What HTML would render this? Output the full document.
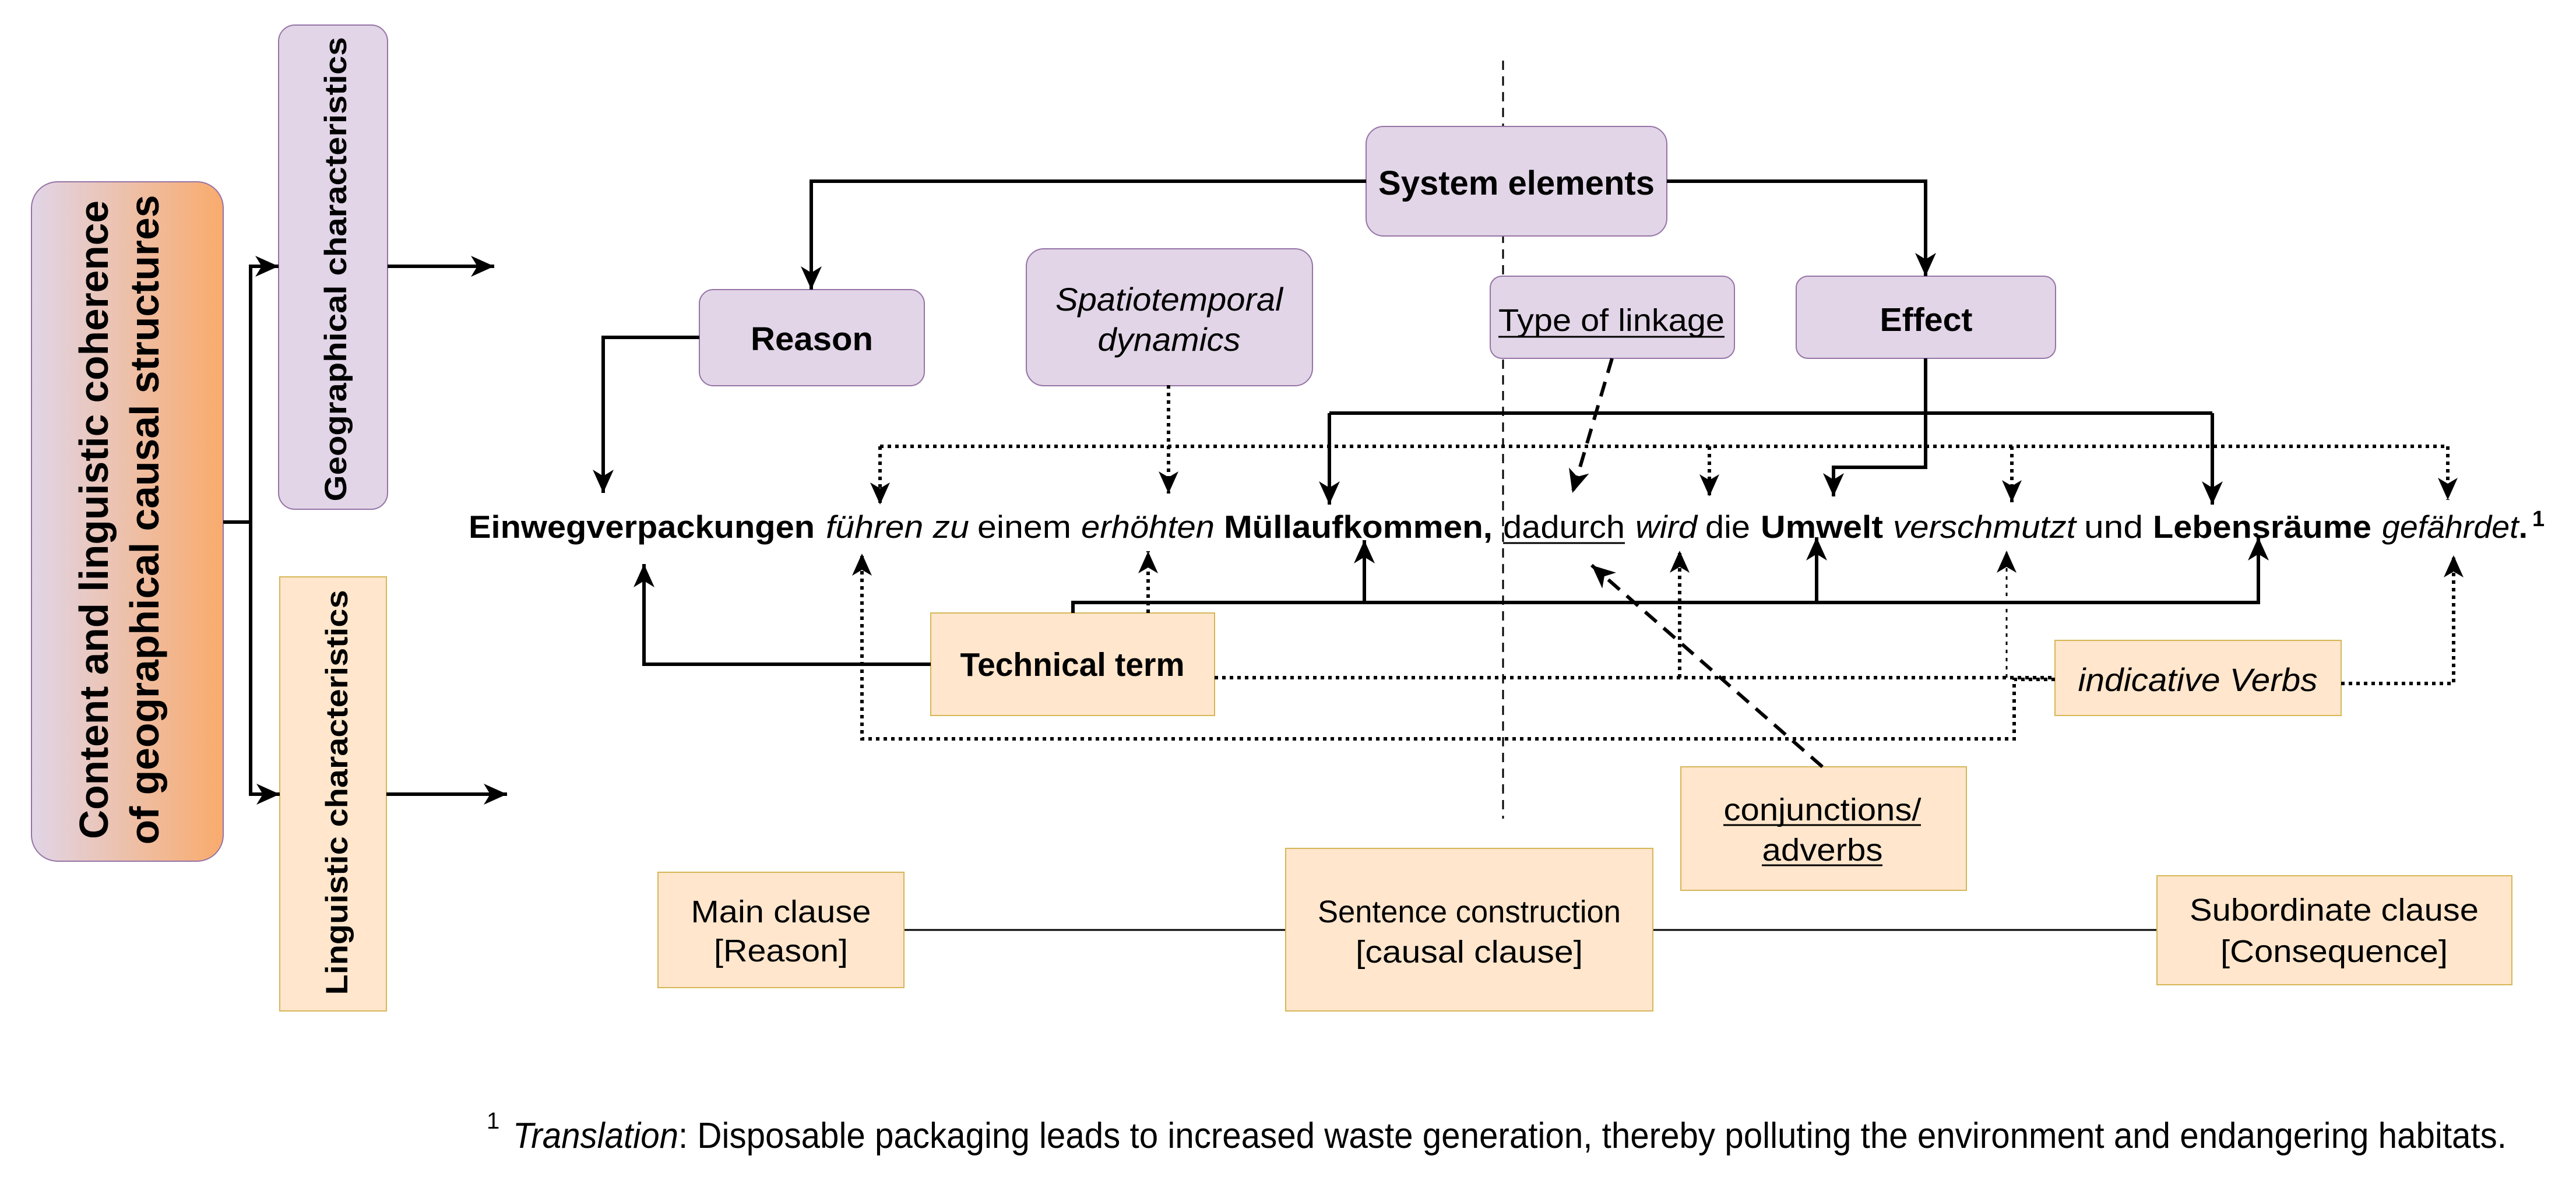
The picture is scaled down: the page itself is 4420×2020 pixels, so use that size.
<!DOCTYPE html>
<html><head><meta charset="utf-8">
<style>
html,body{margin:0;padding:0;background:#fff;}
svg{display:block;}
text{font-family:"Liberation Sans",Arial,sans-serif;fill:#000;}
</style></head>
<body>
<svg width="4420" height="2020" viewBox="0 0 4420 2020" xmlns="http://www.w3.org/2000/svg">
<defs>
<linearGradient id="lg" x1="0" y1="0" x2="1" y2="0">
<stop offset="0" stop-color="#e1d5e7"/>
<stop offset="1" stop-color="#f9ab6c"/>
</linearGradient>
<marker id="a" markerUnits="userSpaceOnUse" markerWidth="44" markerHeight="40" refX="40" refY="18" orient="auto">
<path d="M0,0 L40,18 L0,36 L11,18 Z" fill="#000"/>
</marker>
<marker id="s" markerUnits="userSpaceOnUse" markerWidth="40" markerHeight="36" refX="38" refY="17" orient="auto">
<path d="M0,0 L38,17 L0,34 L10,17 Z" fill="#000"/>
</marker>
</defs>

<rect x="54" y="312" width="329" height="1166" rx="45" fill="url(#lg)" stroke="#9673a6" stroke-width="2"/>
<text transform="translate(185,892) rotate(-90)" text-anchor="middle" font-size="70" font-weight="bold" textLength="1096" lengthAdjust="spacingAndGlyphs">Content and linguistic coherence</text>
<text transform="translate(272,892) rotate(-90)" text-anchor="middle" font-size="70" font-weight="bold" textLength="1115" lengthAdjust="spacingAndGlyphs">of geographical causal structures</text>

<rect x="478" y="43" width="187" height="831" rx="28" fill="#e1d5e7" stroke="#9673a6" stroke-width="2"/>
<text transform="translate(594,462) rotate(-90)" text-anchor="middle" font-size="53" font-weight="bold" textLength="797" lengthAdjust="spacingAndGlyphs">Geographical characteristics</text>

<rect x="480" y="990" width="183" height="745" fill="#ffe6cc" stroke="#d6b656" stroke-width="2"/>
<text transform="translate(596,1360) rotate(-90)" text-anchor="middle" font-size="53" font-weight="bold" textLength="695" lengthAdjust="spacingAndGlyphs">Linguistic characteristics</text>

<g fill="none" stroke="#000" stroke-width="6">
<path d="M383,896 H430"/>
<path d="M430,896 V457 H478" marker-end="url(#a)"/>
<path d="M430,896 V1363 H480" marker-end="url(#a)"/>
<path d="M665,457 H848" marker-end="url(#a)"/>
<path d="M663,1363 H870" marker-end="url(#a)"/>
</g>

<path d="M2579,104 V1405" stroke="#000" stroke-width="3" stroke-dasharray="16,11" fill="none"/>

<rect x="2344" y="217" width="516" height="188" rx="30" fill="#e1d5e7" stroke="#9673a6" stroke-width="2"/>
<text x="2602" y="334" text-anchor="middle" font-size="58" font-weight="bold" textLength="474" lengthAdjust="spacingAndGlyphs">System elements</text>

<rect x="1200" y="497" width="386" height="165" rx="24" fill="#e1d5e7" stroke="#9673a6" stroke-width="2"/>
<text x="1393" y="601" text-anchor="middle" font-size="57" font-weight="bold" textLength="210" lengthAdjust="spacingAndGlyphs">Reason</text>

<rect x="1761" y="427" width="491" height="235" rx="30" fill="#e1d5e7" stroke="#9673a6" stroke-width="2"/>
<text x="2006" y="533" text-anchor="middle" font-size="56" font-style="italic" textLength="390" lengthAdjust="spacingAndGlyphs">Spatiotemporal</text>
<text x="2006" y="602" text-anchor="middle" font-size="56" font-style="italic" textLength="245" lengthAdjust="spacingAndGlyphs">dynamics</text>

<rect x="2557" y="474" width="419" height="141" rx="20" fill="#e1d5e7" stroke="#9673a6" stroke-width="2"/>
<text x="2765" y="568" text-anchor="middle" font-size="54" textLength="388" lengthAdjust="spacingAndGlyphs">Type of linkage</text>
<line x1="2571" y1="578" x2="2959" y2="578" stroke="#000" stroke-width="3"/>

<rect x="3082" y="474" width="445" height="141" rx="20" fill="#e1d5e7" stroke="#9673a6" stroke-width="2"/>
<text x="3305" y="568" text-anchor="middle" font-size="57" font-weight="bold" textLength="159" lengthAdjust="spacingAndGlyphs">Effect</text>

<rect x="1597" y="1052" width="487" height="176" fill="#ffe6cc" stroke="#d6b656" stroke-width="2"/>
<text x="1840" y="1160" text-anchor="middle" font-size="57" font-weight="bold" textLength="385" lengthAdjust="spacingAndGlyphs">Technical term</text>

<rect x="3526" y="1099" width="491" height="129" fill="#ffe6cc" stroke="#d6b656" stroke-width="2"/>
<text x="3771" y="1186" text-anchor="middle" font-size="56" font-style="italic" textLength="411" lengthAdjust="spacingAndGlyphs">indicative Verbs</text>

<rect x="2884" y="1316" width="490" height="212" fill="#ffe6cc" stroke="#d6b656" stroke-width="2"/>
<text x="3127" y="1408" text-anchor="middle" font-size="54" textLength="339" lengthAdjust="spacingAndGlyphs">conjunctions/</text>
<line x1="2957" y1="1416" x2="3296" y2="1416" stroke="#000" stroke-width="3"/>
<text x="3127" y="1477" text-anchor="middle" font-size="54" textLength="207" lengthAdjust="spacingAndGlyphs">adverbs</text>
<line x1="3023" y1="1485" x2="3230" y2="1485" stroke="#000" stroke-width="3"/>

<line x1="1551" y1="1596" x2="3701" y2="1596" stroke="#000" stroke-width="3"/>
<rect x="1129" y="1497" width="422" height="198" fill="#ffe6cc" stroke="#d6b656" stroke-width="2"/>
<text x="1340" y="1583" text-anchor="middle" font-size="54" textLength="309" lengthAdjust="spacingAndGlyphs">Main clause</text>
<text x="1340" y="1650" text-anchor="middle" font-size="54" textLength="230" lengthAdjust="spacingAndGlyphs">[Reason]</text>

<rect x="2206" y="1456" width="630" height="279" fill="#ffe6cc" stroke="#d6b656" stroke-width="2"/>
<text x="2521" y="1583" text-anchor="middle" font-size="54" textLength="520" lengthAdjust="spacingAndGlyphs">Sentence construction</text>
<text x="2521" y="1652" text-anchor="middle" font-size="54" textLength="390" lengthAdjust="spacingAndGlyphs">[causal clause]</text>

<rect x="3701" y="1503" width="609" height="187" fill="#ffe6cc" stroke="#d6b656" stroke-width="2"/>
<text x="4005" y="1580" text-anchor="middle" font-size="54" textLength="496" lengthAdjust="spacingAndGlyphs">Subordinate clause</text>
<text x="4005" y="1651" text-anchor="middle" font-size="54" textLength="390" lengthAdjust="spacingAndGlyphs">[Consequence]</text>

<g fill="none" stroke="#000" stroke-width="6">
<path d="M2344,311 H1392 V497" marker-end="url(#a)"/>
<path d="M2860,311 H3304 V474" marker-end="url(#a)"/>
<path d="M1200,579 H1035 V846" marker-end="url(#a)"/>
<path d="M2281,709 H3796"/>
<path d="M2281,709 V866" marker-end="url(#a)"/>
<path d="M3796,709 V866" marker-end="url(#a)"/>
<path d="M3304,615 V802 H3146 V852" marker-end="url(#a)"/>
<path d="M1841,1052 V1034 H3875 V922" marker-end="url(#a)"/>
<path d="M2341,1034 V927" marker-end="url(#a)"/>
<path d="M3117,1034 V922" marker-end="url(#a)"/>
<path d="M1597,1140 H1105 V968" marker-end="url(#a)"/>
</g>

<g fill="none" stroke="#000" stroke-width="6" stroke-dasharray="6,7">
<path d="M1510,766 H4200"/>
<path d="M1510,766 V866" marker-end="url(#s)"/>
<path d="M2933,766 V852" marker-end="url(#s)"/>
<path d="M3452,766 V862" marker-end="url(#s)"/>
<path d="M4200,766 V858" marker-end="url(#s)"/>
<path d="M2005,661 V847" marker-end="url(#s)"/>
<path d="M1970,1052 V946" marker-end="url(#s)"/>
<path d="M2084,1163 H3526"/>
<path d="M2882,1163 V945" marker-end="url(#s)"/>
<path d="M3526,1166 H3456 V1268 H1479 V950" marker-end="url(#s)"/>
<path d="M4017,1173 H4210 V953" marker-end="url(#s)"/>
</g>
<path d="M3443,1163 V945" fill="none" stroke="#000" stroke-width="3" stroke-dasharray="6,8" marker-end="url(#s)"/>

<g fill="none" stroke="#000" stroke-width="6" stroke-dasharray="26,16">
<path d="M2766,615 L2698,846" marker-end="url(#a)"/>
<path d="M3127,1316 L2731,970" marker-end="url(#a)"/>
</g>

<g font-size="55">
<text x="804" y="923" font-weight="bold" textLength="594" lengthAdjust="spacingAndGlyphs">Einwegverpackungen</text>
<text x="1417" y="923" font-style="italic" textLength="246" lengthAdjust="spacingAndGlyphs">führen zu</text>
<text x="1677" y="923" textLength="161" lengthAdjust="spacingAndGlyphs">einem</text>
<text x="1855" y="923" font-style="italic" textLength="229" lengthAdjust="spacingAndGlyphs">erhöhten</text>
<text x="2100" y="923" font-weight="bold" textLength="461" lengthAdjust="spacingAndGlyphs">Müllaufkommen,</text>
<text x="2579" y="923" textLength="209" lengthAdjust="spacingAndGlyphs">dadurch</text>
<text x="2806" y="923" font-style="italic" textLength="106" lengthAdjust="spacingAndGlyphs">wird</text>
<text x="2926" y="923" textLength="77" lengthAdjust="spacingAndGlyphs">die</text>
<text x="3021" y="923" font-weight="bold" textLength="210" lengthAdjust="spacingAndGlyphs">Umwelt</text>
<text x="3248" y="923" font-style="italic" textLength="314" lengthAdjust="spacingAndGlyphs">verschmutzt</text>
<text x="3576" y="923" textLength="101" lengthAdjust="spacingAndGlyphs">und</text>
<text x="3694" y="923" font-weight="bold" textLength="375" lengthAdjust="spacingAndGlyphs">Lebensräume</text>
<text x="4087" y="923" textLength="250" lengthAdjust="spacingAndGlyphs"><tspan font-style="italic">gefährdet</tspan><tspan font-weight="bold">.</tspan></text>
</g>
<text x="4345" y="903" font-size="38" font-weight="bold">1</text>
<line x1="2579" y1="932" x2="2788" y2="932" stroke="#000" stroke-width="3"/>

<text x="835" y="1937" font-size="40">1</text>
<text x="880" y="1970" font-size="62" textLength="3421" lengthAdjust="spacingAndGlyphs"><tspan font-style="italic">Translation</tspan>: Disposable packaging leads to increased waste generation, thereby polluting the environment and endangering habitats.</text>
</svg>
</body></html>
